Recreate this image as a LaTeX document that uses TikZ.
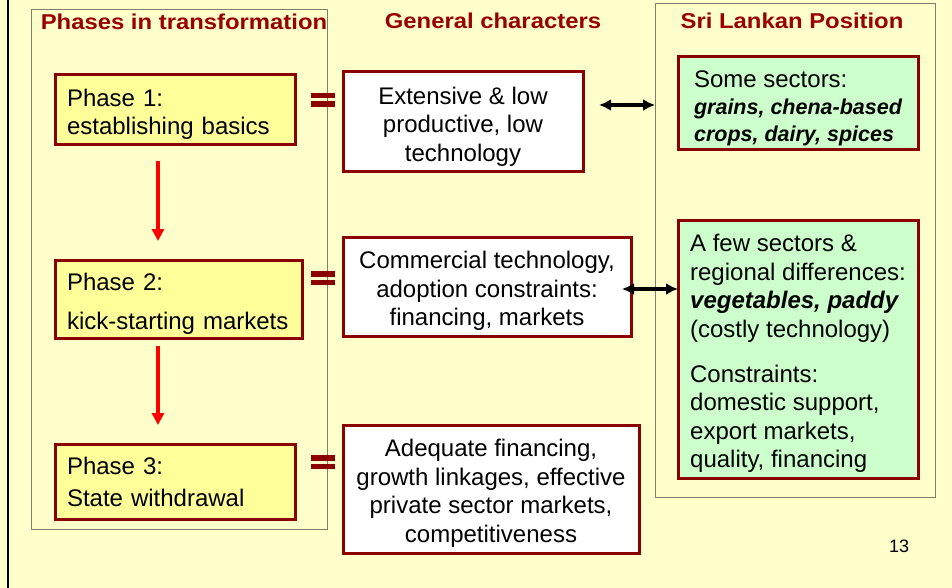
\documentclass[tikz,border=0pt]{standalone}
\usepackage{fontspec}
\setmainfont{Liberation Sans}
\newfontfamily\titlefont{Liberation Sans}[FakeStretch=1.11]
\usetikzlibrary{arrows.meta}
\definecolor{bgyellow}{HTML}{FFFFCC}
\definecolor{phaseyellow}{HTML}{FFFF99}
\definecolor{srigreen}{HTML}{CCFFCC}
\definecolor{dkred}{HTML}{8B0000}
\definecolor{titlered}{HTML}{990000}
\definecolor{groupgrey}{HTML}{7F7F6A}
\newcommand\dnstrut{\rule{0pt}{26pt}}
\tikzset{
  groupbox/.style={draw=groupgrey, line width=1pt, anchor=north west, inner sep=0pt},
  titletext/.style={text=titlered, font=\titlefont\bfseries\fontsize{21.5}{25}\selectfont},
  bodyfont/.style={font=\fontsize{24}{28.5}\selectfont},
  phasebox/.style={draw=dkred, line width=3pt, fill=phaseyellow, inner xsep=12pt, inner ysep=0pt, align=left,
     bodyfont},
  genbox/.style={draw=dkred, line width=3pt, fill=white, inner sep=0pt, align=center,
     bodyfont},
  sribox/.style={draw=dkred, line width=3pt, fill=srigreen, inner sep=0pt, align=left,
     bodyfont},
  redarrow/.style={draw=red, line width=4pt, -{Triangle[length=12pt,width=12pt]}},
  dblarrow/.style={draw=black, line width=3.5pt, {Latex[length=12pt,width=12pt]}-{Latex[length=12pt,width=12pt]}},
  eqbar/.style={fill=dkred, draw=none},
}
\begin{document}
\begin{tikzpicture}[x=1pt,y=-1pt]
\useasboundingbox (0,0) rectangle (952,588);
\fill[bgyellow] (0,0) rectangle (952,588);
\draw[black, line width=2.5pt] (8,0) -- (8,588);

% group boxes
\node[groupbox, minimum width=296pt, minimum height=520pt] (lg) at (31,9) {};
\node[groupbox, minimum width=280pt, minimum height=494pt] (rg) at (655,3) {};

% titles
\node[titletext] (t1) at (184,22) {Phases in transformation};
\node[titletext] (t2) at (493,21) {General characters};
\node[titletext] (t3) at (792,21) {Sri Lankan Position};

% phase boxes
\node[phasebox, minimum width=240pt, minimum height=70pt, text width=216pt] (p1) at (175,110)
  {\dnstrut Phase 1:\\establishing basics};
\node[phasebox, minimum width=247pt, minimum height=78pt, text width=223pt] (p2) at (178.5,299)
  {\dnstrut Phase 2:\\[10.5pt]kick-starting markets};
\node[phasebox, minimum width=240pt, minimum height=75pt, text width=216pt] (p3) at (175,481.5)
  {Phase 3:\\[3.5pt]State withdrawal};

% general boxes
\node[genbox, minimum width=240pt, minimum height=100pt] (g1) at (463,122)
  {\dnstrut Extensive \& low\\productive, low\\technology};
\node[genbox, minimum width=288pt, minimum height=99pt] (g2) at (487,286.5)
  {\dnstrut Commercial technology,\\adoption constraints:\\financing, markets};
\node[genbox, minimum width=296pt, minimum height=128pt] (g3) at (491,489)
  {\dnstrut Adequate financing,\\growth linkages, effective\\private sector markets,\\competitiveness};

% Sri Lanka boxes
\node[sribox, minimum width=240pt, minimum height=93pt] (s1) at (798,103.5)
  {\dnstrut Some sectors:\\[-1pt]
   {\fontsize{21.5}{26}\selectfont\bfseries\itshape grains, chena-based}\\[-2pt]
   {\fontsize{21.5}{26}\selectfont\bfseries\itshape crops, dairy, spices}};
\node[sribox, minimum width=240pt, minimum height=258pt] (s2) at (798,349)
  {\dnstrut A few sectors \&\\regional differences:\\{\bfseries\itshape vegetables, paddy}\\(costly technology)\\[16.5pt]
   Constraints:\\domestic support,\\export markets,\\quality, financing};

% equal signs
\foreach \c in {100,278,462}{
  \fill[eqbar] (311,\c-7) rectangle (335,\c-1.5);
  \fill[eqbar] (311,\c+1.5) rectangle (335,\c+7);
}

% red arrows
\coordinate (r1s) at (158,161);
\coordinate (r1e) at (158,241);
\coordinate (r2s) at (158,346);
\coordinate (r2e) at (158,425);
\draw[redarrow] (r1s) -- (r1e);
\draw[redarrow] (r2s) -- (r2e);

% double arrows
\coordinate (d1s) at (599,105);
\coordinate (d1e) at (655,105);
\coordinate (d2s) at (622,289);
\coordinate (d2e) at (678,289);
\draw[dblarrow] (d1s) -- (d1e);
\draw[dblarrow] (d2s) -- (d2e);

% page number
\node[font=\fontsize{18}{20}\selectfont] (pn) at (899,546) {13};
\end{tikzpicture}
\end{document}
